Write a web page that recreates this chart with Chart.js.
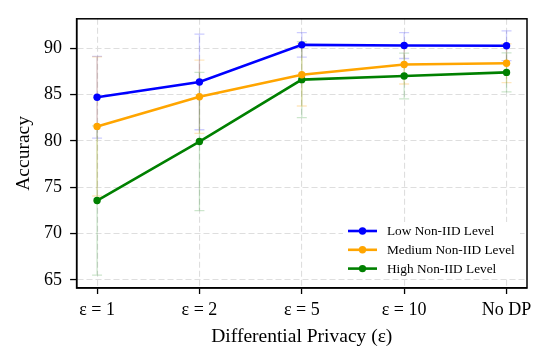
<!DOCTYPE html>
<html lang="en">
<head>
  <meta charset="UTF-8">
  <title>Accuracy vs Differential Privacy</title>
  <style>
    body {
      margin: 0;
      background-color: white;
    }
    canvas {
      display: block;
    }
  </style>
  <script src="https://cdn.jsdelivr.net/npm/chart.js"></script>
</head>
<body>
  <canvas id="accChart" width="547" height="363"></canvas>

  <script>
    const xLabels = ['ε = 1', 'ε = 2', 'ε = 5', 'ε = 10', 'No DP'];
    const yTicks = [65, 70, 75, 80, 85, 90];

    const lowAcc = [84.7, 86.35, 90.35, 90.28, 90.25];
    const lowErr = [4.4, 5.15, 1.33, 1.4, 1.6];
    const medAcc = [81.56, 84.75, 87.13, 88.23, 88.37];
    const medErr = [7.5, 3.95, 3.37, 2.1, 2.1];
    const highAcc = [73.57, 79.93, 86.6, 86.99, 87.38];
    const highErr = [8.05, 7.45, 4.1, 2.47, 2.1];

    const serif = "'Liberation Serif', 'Times New Roman', serif";

    const makeSet = (label, values, errs, color, errColor) => ({
      label: label,
      data: values.map((v, i) => ({ x: i, y: v })),
      errs: errs,
      errColor: errColor,
      borderColor: color,
      backgroundColor: color,
      borderWidth: 2.6,
      pointRadius: 3.7,
      pointHoverRadius: 3.7,
      pointBorderWidth: 0,
      tension: 0
    });

    // error bars under the lines, light and thin with caps
    const errorBars = {
      id: 'errorBars',
      beforeDatasetsDraw(chart) {
        const ctx = chart.ctx;
        const xs = chart.scales.x, ys = chart.scales.y;
        ctx.save();
        chart.data.datasets.forEach(ds => {
          ctx.strokeStyle = ds.errColor;
          ctx.lineWidth = 1.3;
          ds.data.forEach((p, i) => {
            const px = xs.getPixelForValue(p.x);
            const top = ys.getPixelForValue(p.y + ds.errs[i]);
            const bot = ys.getPixelForValue(p.y - ds.errs[i]);
            ctx.beginPath();
            ctx.moveTo(px, top); ctx.lineTo(px, bot);
            ctx.moveTo(px - 5, top); ctx.lineTo(px + 5, top);
            ctx.moveTo(px - 5, bot); ctx.lineTo(px + 5, bot);
            ctx.stroke();
          });
        });
        ctx.restore();
      }
    };

    // black frame and the legend box in the lower right
    const frameAndLegend = {
      id: 'frameAndLegend',
      afterDraw(chart) {
        const ctx = chart.ctx;
        const a = chart.chartArea;
        ctx.save();
        ctx.strokeStyle = '#000';
        ctx.lineWidth = 1.5;
        ctx.strokeRect(a.left, a.top, a.right - a.left, a.bottom - a.top);

        ctx.fillStyle = 'white';
        ctx.fillRect(343, 222, 177, 56);
        ctx.font = '13.3px ' + serif;
        ctx.textBaseline = 'middle';
        ctx.textAlign = 'left';
        chart.data.datasets.forEach((ds, i) => {
          const y = 231 + i * 18.8;
          ctx.strokeStyle = ds.borderColor;
          ctx.lineWidth = 2.6;
          ctx.beginPath();
          ctx.moveTo(348, y); ctx.lineTo(377, y);
          ctx.stroke();
          ctx.fillStyle = ds.borderColor;
          ctx.beginPath();
          ctx.arc(362.5, y, 3.7, 0, Math.PI * 2);
          ctx.fill();
          ctx.fillStyle = '#000';
          ctx.fillText(ds.label, 387, y + 0.5);
        });
        ctx.restore();
      }
    };

    const ctx = document.getElementById('accChart').getContext('2d');
    new Chart(ctx, {
      type: 'line',
      data: {
        datasets: [
          makeSet('Low Non-IID Level', lowAcc, lowErr, '#0000ff', 'rgba(0,0,255,0.2)'),
          makeSet('Medium Non-IID Level', medAcc, medErr, '#ffa500', 'rgba(255,165,0,0.25)'),
          makeSet('High Non-IID Level', highAcc, highErr, '#008000', 'rgba(0,128,0,0.2)')
        ]
      },
      options: {
        responsive: false,
        animation: false,
        layout: { padding: { left: 0, top: 16, right: 20, bottom: 0 } },
        plugins: {
          legend: { display: false },
          tooltip: { enabled: false }
        },
        scales: {
          x: {
            type: 'linear',
            min: -0.2,
            max: 4.2,
            afterBuildTicks: axis => { axis.ticks = xLabels.map((l, i) => ({ value: i })); },
            afterFit: axis => { axis.height = 75; },
            ticks: {
              callback: v => xLabels[v],
              color: '#000',
              padding: 5,
              maxRotation: 0,
              font: { family: serif, size: 18 }
            },
            grid: {
              color: '#dedede',
              lineWidth: 1.1,
              tickColor: '#000',
              tickLength: 6,
              tickWidth: 1.3,
              tickBorderDash: []
            },
            border: { display: true, color: '#000', width: 1.5, dash: [6, 3] },
            title: {
              display: true,
              text: 'Differential Privacy (ε)',
              color: '#000',
              padding: { top: 0, bottom: 14 },
              font: { family: serif, size: 19.5 }
            }
          },
          y: {
            type: 'linear',
            min: 64.14,
            max: 93.16,
            afterBuildTicks: axis => { axis.ticks = yTicks.map(v => ({ value: v })); },
            afterFit: axis => { axis.width = 76.6; },
            ticks: {
              color: '#000',
              padding: 8,
              font: { family: serif, size: 18 }
            },
            grid: {
              color: '#dedede',
              lineWidth: 1.1,
              tickColor: '#000',
              tickLength: 6.5,
              tickWidth: 1.3,
              tickBorderDash: []
            },
            border: { display: true, color: '#000', width: 1.5, dash: [6, 3] },
            title: {
              display: true,
              text: 'Accuracy',
              color: '#000',
              padding: { top: 12, bottom: 0 },
              font: { family: serif, size: 19.5 }
            }
          }
        }
      },
      plugins: [errorBars, frameAndLegend]
    });
  </script>
</body>
</html>
